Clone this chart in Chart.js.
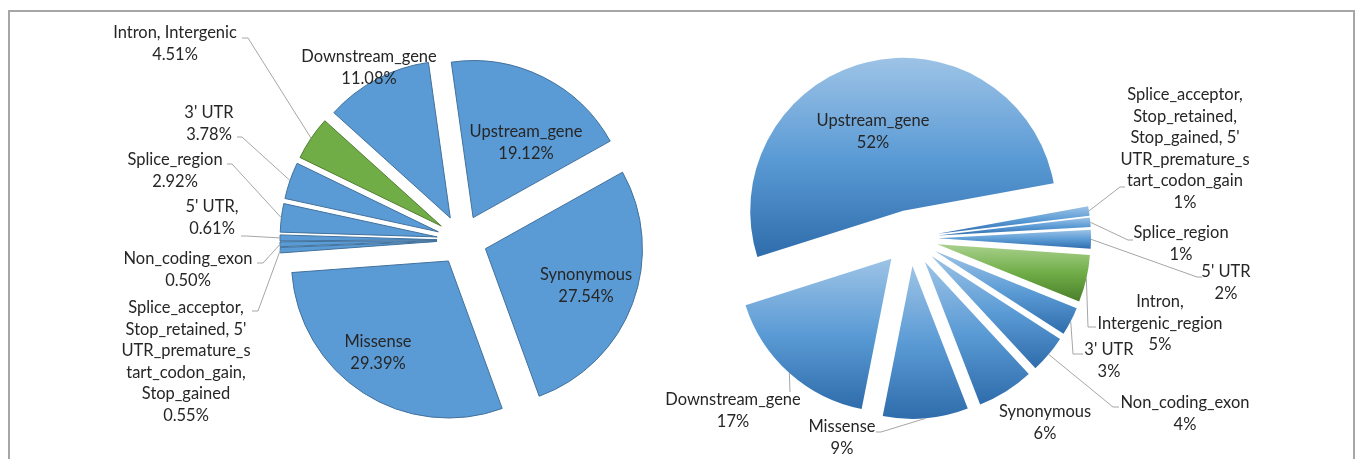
<!DOCTYPE html>
<html>
<head>
<meta charset="utf-8">
<script src="https://cdn.jsdelivr.net/npm/chart.js@4.4.1/dist/chart.umd.min.js"></script>
<style>
  html, body { margin: 0; padding: 0; background: #fff; }
  body { width: 1357px; height: 459px; position: relative; overflow: hidden; }
  .frame { position: absolute; left: 8px; top: 10px; width: 1347px; height: 500px;
           box-sizing: border-box; border: 2px solid #a6a6a6; border-bottom: none; }
  canvas { position: absolute; left: 0; top: 0; }
</style>
</head>
<body>
<div class="frame"></div>
<canvas id="leftPie" width="1357" height="459"></canvas>
<canvas id="rightPie" width="1357" height="459"></canvas>
<script>
// left pie
const leftCategories = [
  'Upstream_gene',
  'Synonymous',
  'Missense',
  "Splice_acceptor,\nStop_retained, 5'\nUTR_premature_s\ntart_codon_gain,\nStop_gained",
  'Non_coding_exon',
  "5' UTR,",
  'Splice_region',
  "3' UTR",
  'Intron, Intergenic',
  'Downstream_gene'
];
const leftValues = [19.12, 27.54, 29.39, 0.55, 0.50, 0.61, 2.92, 3.78, 4.51, 11.08];

// right pie
const rightCategories = [
  'Upstream_gene',
  "Splice_acceptor,\nStop_retained,\nStop_gained, 5'\nUTR_premature_s\ntart_codon_gain",
  'Splice_region',
  "5' UTR",
  'Intron,\nIntergenic_region',
  "3' UTR",
  'Non_coding_exon',
  'Synonymous',
  'Missense',
  'Downstream_gene'
];
const rightValues = [52, 1, 1, 2, 5, 3, 4, 6, 9, 17];

// label placement (text centre of first line, leader end points)
const leftLabelPos = [
  { x: 526, y: 132 },
  { x: 586, y: 275 },
  { x: 378, y: 342 },
  { x: 186, y: 308, leader: [[258, 311], [252, 311]] },
  { x: 188, y: 259, leader: [[263, 263], [257, 263]] },
  { x: 212, y: 207, leader: [[246, 236], [241, 236]] },
  { x: 175, y: 160, leader: [[232, 164], [227, 164]] },
  { x: 209, y: 113, leader: [[242, 137], [237, 137]] },
  { x: 175, y: 33, leader: [[248, 38], [242, 38]] },
  { x: 369, y: 57 }
];
const rightLabelPos = [
  { x: 873, y: 121 },
  { x: 1185, y: 95, leader: [[1120, 187], [1125, 187]] },
  { x: 1181, y: 233, leader: [[1128, 240], [1133, 240]] },
  { x: 1226, y: 272, leader: [[1197, 277], [1202, 277]] },
  { x: 1160, y: 302, leader: [[1088, 327], [1096, 327]] },
  { x: 1109, y: 350, leader: [[1073, 354], [1083, 354]] },
  { x: 1185, y: 403, leader: [[1113, 407], [1119, 407]] },
  { x: 1045, y: 412 },
  { x: 842, y: 427, leader: [[881, 432], [876, 432]] },
  { x: 733, y: 400, leader: [[790, 392]] }
];

const FONT_FAMILY = 'Lato, "Open Sans", sans-serif';
const LINE_H = 21.5;
const TEXT_COLOR = '#262626';
const LEADER_COLOR = '#a6a6a6';

// size the font so a reference word matches the picture's width
function fitFont(sample, target) {
  const c = document.createElement('canvas').getContext('2d');
  c.font = '100px ' + FONT_FAMILY;
  return 100 * target / c.measureText(sample).width;
}
const fontPx = fitFont('Non_coding_exon', 129);

const isIntron = name => name.startsWith('Intron');

// move every slice out from the centre along its mid angle
function explodePlugin(distance, stopsFor) {
  return {
    id: 'explode',
    beforeDatasetDraw(chart, args) {
      const area = chart.chartArea;
      const cx = (area.left + area.right) / 2;
      const cy = (area.top + area.bottom) / 2;
      args.meta.data.forEach((arc, i) => {
        const mid = (arc.startAngle + arc.endAngle) / 2;
        arc.x = cx + Math.cos(mid) * distance;
        arc.y = cy + Math.sin(mid) * distance;
        if (stopsFor) {
          // vertical gradient over the slice's own height
          const R = arc.outerRadius;
          let top = Math.min(arc.y, arc.y + R * Math.sin(arc.startAngle), arc.y + R * Math.sin(arc.endAngle));
          let bottom = Math.max(arc.y, arc.y + R * Math.sin(arc.startAngle), arc.y + R * Math.sin(arc.endAngle));
          const within = a => {
            let t = a;
            while (t < arc.startAngle) t += Math.PI * 2;
            while (t > arc.startAngle + Math.PI * 2) t -= Math.PI * 2;
            return t <= arc.endAngle;
          };
          if (within(-Math.PI / 2)) top = arc.y - R;
          if (within(Math.PI / 2)) bottom = arc.y + R;
          const g = chart.ctx.createLinearGradient(0, top, 0, bottom);
          stopsFor(i).forEach(s => g.addColorStop(s[0], s[1]));
          arc.options = Object.assign({}, arc.options, { backgroundColor: g });
        }
      });
    }
  };
}

function labelPlugin(names, values, fmt, positions) {
  return {
    id: 'pieLabels',
    afterDatasetsDraw(chart) {
      const ctx = chart.ctx;
      const arcs = chart.getDatasetMeta(0).data;
      ctx.save();
      ctx.strokeStyle = LEADER_COLOR;
      ctx.lineWidth = 1;
      positions.forEach((p, i) => {
        if (!p.leader) return;
        const arc = arcs[i];
        const mid = (arc.startAngle + arc.endAngle) / 2;
        ctx.beginPath();
        ctx.moveTo(arc.x + Math.cos(mid) * arc.outerRadius, arc.y + Math.sin(mid) * arc.outerRadius);
        p.leader.forEach(pt => ctx.lineTo(pt[0], pt[1]));
        ctx.stroke();
      });
      ctx.fillStyle = TEXT_COLOR;
      ctx.font = fontPx.toFixed(2) + 'px ' + FONT_FAMILY;
      ctx.textAlign = 'center';
      ctx.textBaseline = 'middle';
      positions.forEach((p, i) => {
        const lines = names[i].split('\n').concat(fmt(values[i]));
        lines.forEach((t, k) => ctx.fillText(t, p.x, p.y + k * LINE_H));
      });
      ctx.restore();
    }
  };
}

const baseOptions = {
  responsive: false,
  animation: false,
  events: [],
  plugins: { legend: { display: false }, tooltip: { enabled: false } }
};

new Chart(document.getElementById('leftPie'), {
  type: 'pie',
  data: {
    labels: leftCategories,
    datasets: [{
      data: leftValues,
      backgroundColor: leftCategories.map(c => isIntron(c) ? '#70ad47' : '#5b9bd5'),
      borderColor: leftCategories.map(c => isIntron(c) ? '#507e32' : '#41719c'),
      borderWidth: 1
    }]
  },
  options: Object.assign({}, baseOptions, {
    rotation: -8,
    radius: 157,
    layout: { padding: { left: 0, right: 433, top: 21, bottom: 0 } }
  }),
  plugins: [
    explodePlugin(25, null),
    labelPlugin(leftCategories, leftValues, v => v.toFixed(2) + '%', leftLabelPos)
  ]
});

const blueStops = [[0, '#9dc3e6'], [0.5, '#5b9bd5'], [1, '#2e6cab']];
const greenStops = [[0, '#a9d18e'], [0.5, '#70ad47'], [1, '#4a7f2b']];

new Chart(document.getElementById('rightPie'), {
  type: 'pie',
  data: {
    labels: rightCategories,
    datasets: [{
      data: rightValues,
      backgroundColor: rightCategories.map(c => isIntron(c) ? '#70ad47' : '#5b9bd5'),
      borderWidth: 0
    }]
  },
  options: Object.assign({}, baseOptions, {
    rotation: -107.6,
    radius: 153,
    layout: { padding: { left: 463, right: 0, top: 17, bottom: 0 } }
  }),
  plugins: [
    explodePlugin(28, i => isIntron(rightCategories[i]) ? greenStops : blueStops),
    labelPlugin(rightCategories, rightValues, v => v + '%', rightLabelPos)
  ]
});
</script>
</body>
</html>
